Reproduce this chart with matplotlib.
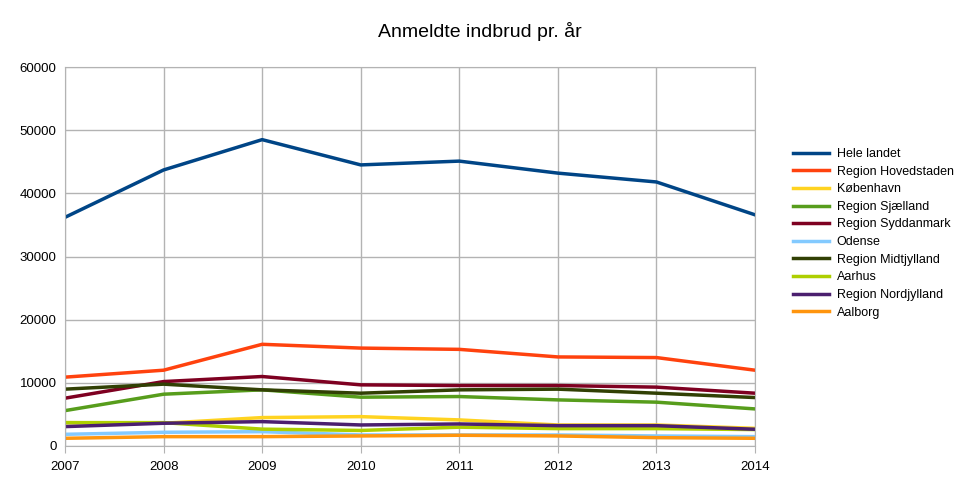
import matplotlib
matplotlib.use("Agg")
import matplotlib.pyplot as plt

years = [2007, 2008, 2009, 2010, 2011, 2012, 2013, 2014]
names = ["Hele landet", "Region Hovedstaden", "København", "Region Sjælland", "Region Syddanmark",
         "Odense", "Region Midtjylland", "Aarhus", "Region Nordjylland", "Aalborg"]
colors = ["#004586", "#ff420e", "#ffd320", "#579d1c", "#7e0021", "#83caff", "#314004", "#aecf00", "#4b1f6f", "#ff950e"]
hele = [36200, 43700, 48500, 44500, 45100, 43200, 41800, 36600]
hovedstaden = [10900, 12000, 16100, 15500, 15300, 14100, 14000, 12000]
kobenhavn = [3700, 3600, 4500, 4650, 4130, 3330, 3330, 2800]
sjaelland = [5600, 8200, 8890, 7730, 7830, 7300, 6940, 5870]
syddanmark = [7570, 10200, 11000, 9680, 9570, 9570, 9320, 8360]
odense = [1850, 2170, 2270, 1750, 1750, 1750, 1590, 1480]
midtjylland = [9000, 9790, 8890, 8360, 8890, 9000, 8360, 7670]
aarhus = [3700, 3700, 2670, 2460, 2980, 2750, 2750, 2600]
nordjylland = [3070, 3600, 3860, 3330, 3490, 3220, 3220, 2650]
aalborg = [1220, 1480, 1480, 1590, 1700, 1590, 1320, 1220]
series = [hele, hovedstaden, kobenhavn, sjaelland, syddanmark, odense, midtjylland, aarhus, nordjylland, aalborg]

plt.rcParams['font.family'] = ['Liberation Sans', 'DejaVu Sans']
fig = plt.figure(figsize=(9.6, 4.8), dpi=100)
ax = fig.add_axes([65/960, 34/480, 690/960, 379/480])
for s, n, c in zip(series, names, colors):
    ax.plot(years, s, color=c, lw=2.5, label=n)
ax.set_xlim(2007, 2014)
ax.set_ylim(0, 60000)
ax.set_yticks(range(0, 60001, 10000))
ax.set_xticks(years)
ax.grid(True, color="#b3b3b3", lw=1)
ax.set_axisbelow(True)
for sp in ax.spines.values():
    sp.set_color("#b3b3b3")
ax.tick_params(length=0, labelsize=9.5, pad=6)
ax.tick_params(axis='x', length=5, color="#b3b3b3", direction='out')
fig.suptitle("Anmeldte indbrud pr. år", y=0.955, fontsize=14)
fig.legend(loc='upper left', bbox_to_anchor=(788/960, 1 - 143/480), frameon=False, fontsize=9,
           handlelength=2.9, handletextpad=0.6, labelspacing=0.45, borderaxespad=0)
fig.savefig("out.png")
